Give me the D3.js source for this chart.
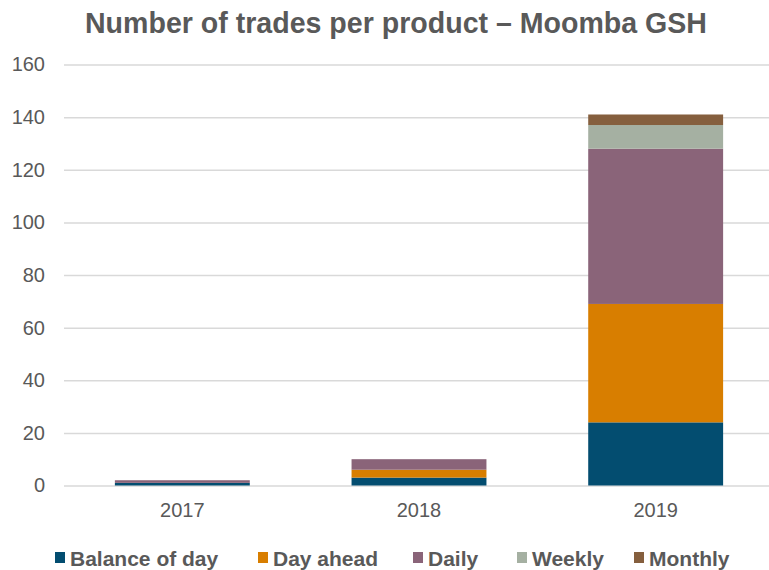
<!DOCTYPE html>
<html>
<head>
<meta charset="utf-8">
<script src="https://cdn.jsdelivr.net/npm/d3@7"></script>
<style>
  body { margin: 0; background: #fff; }
  text { font-family: "Liberation Sans", Arial, sans-serif; fill: #595959; }
</style>
</head>
<body>
<div id="chart"></div>
<script>
// chart data
const years = ['2017', '2018', '2019'];
const products = ['Balance of day', 'Day ahead', 'Daily', 'Weekly', 'Monthly'];
const balanceOfDay = [1, 3, 24];
const dayAhead = [0, 3, 45];
const daily = [1, 4, 59];
const weekly = [0, 0, 9];
const monthly = [0, 0, 4];
const yTicks = [0, 20, 40, 60, 80, 100, 120, 140, 160];
const colors = ['#034d70', '#d87e00', '#8a6479', '#a5b0a2', '#855f3e'];

const width = 769;
const height = 570;
const margin = { top: 64.5, left: 64, bottom: 84.5 };

// build rows for d3.stack
const seriesValues = [balanceOfDay, dayAhead, daily, weekly, monthly];
const rows = years.map((year, i) => {
  const row = { name: year };
  products.forEach((p, j) => { row[p] = seriesValues[j][i]; });
  return row;
});

const svg = d3.select('#chart')
  .append('svg')
  .attr('width', width)
  .attr('height', height);

const x = d3.scaleBand()
  .domain(years)
  .range([margin.left, 774])
  .paddingInner(0.43)
  .paddingOuter(0.215);

const y = d3.scaleLinear()
  .domain([0, 160])
  .range([height - margin.bottom, margin.top]);

// gridlines + y labels
const yAxis = svg.append('g')
  .attr('transform', `translate(${margin.left},0)`)
  .call(d3.axisLeft(y).tickValues(yTicks).tickSize(-(width - margin.left)).tickPadding(19));
yAxis.select('.domain').remove();
yAxis.selectAll('line').attr('stroke', '#d9d9d9').attr('stroke-width', 1.5);
yAxis.selectAll('text')
  .attr('font-size', 20)
  .attr('fill', '#595959')
  .style('font-family', '"Liberation Sans", Arial, sans-serif');

// stacked bars
const stacked = d3.stack().keys(products)(rows);
svg.append('g')
  .selectAll('g')
  .data(stacked)
  .join('g')
  .attr('fill', (d, i) => colors[i])
  .selectAll('rect')
  .data(d => d)
  .join('rect')
  .attr('x', d => x(d.data.name))
  .attr('y', d => y(d[1]))
  .attr('height', d => y(d[0]) - y(d[1]))
  .attr('width', x.bandwidth());

// x labels
const xAxis = svg.append('g')
  .attr('transform', `translate(0,${height - margin.bottom})`)
  .call(d3.axisBottom(x).tickSize(0).tickPadding(17));
xAxis.select('.domain').remove();
xAxis.selectAll('text')
  .attr('font-size', 20)
  .attr('fill', '#595959')
  .style('font-family', '"Liberation Sans", Arial, sans-serif');

// title
svg.append('text')
  .attr('x', 396)
  .attr('y', 33)
  .attr('text-anchor', 'middle')
  .attr('font-size', 29)
  .attr('font-weight', 'bold')
  .attr('textLength', 622)
  .attr('lengthAdjust', 'spacingAndGlyphs')
  .text('Number of trades per product – Moomba GSH');

// legend
const legendX = [55, 258, 413, 517, 634];
const legend = svg.append('g')
  .selectAll('g')
  .data(products)
  .join('g')
  .attr('transform', (d, i) => `translate(${legendX[i]},558)`);
legend.append('rect')
  .attr('x', 0)
  .attr('y', -6)
  .attr('width', 10)
  .attr('height', 11)
  .attr('fill', (d, i) => colors[i]);
legend.append('text')
  .attr('x', 15)
  .attr('y', 7.5)
  .attr('font-size', 21)
  .attr('font-weight', 'bold')
  .text(d => d);
</script>
</body>
</html>
